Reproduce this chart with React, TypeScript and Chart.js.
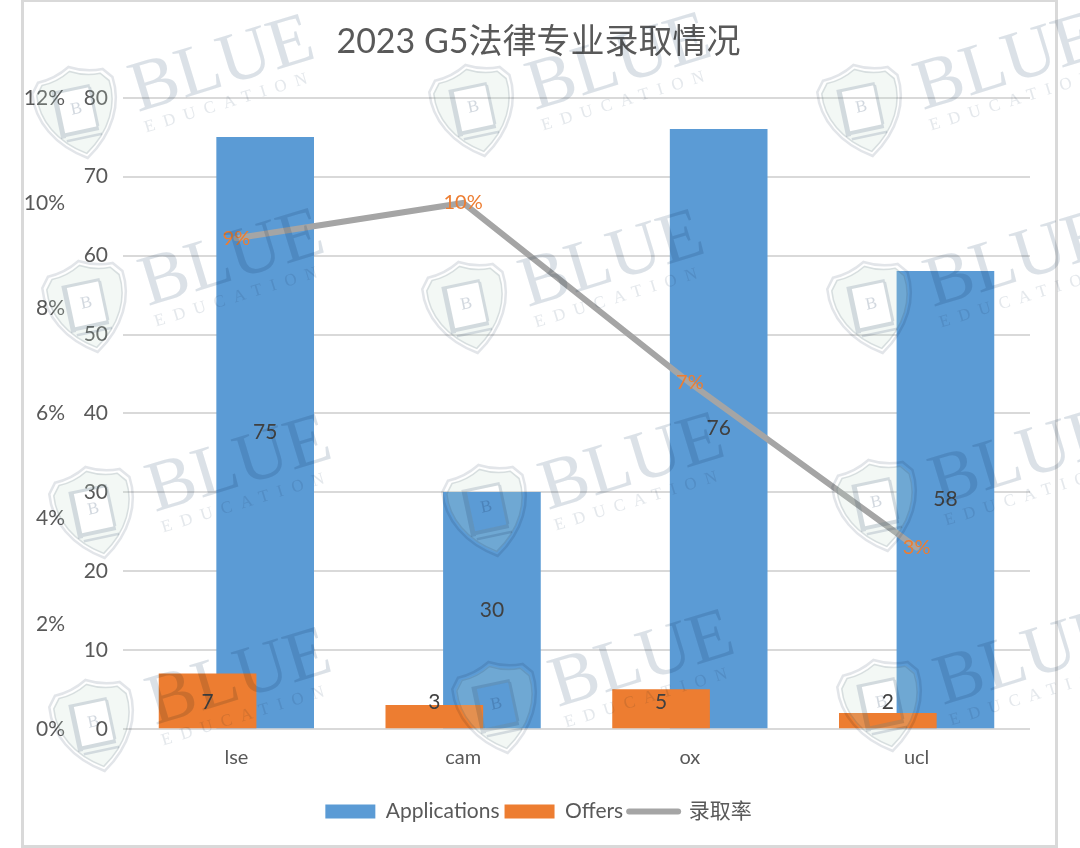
import React, { useEffect, useRef } from "react";
import { Chart, registerables } from "chart.js";

Chart.register(...registerables);

const categories = ["lse", "cam", "ox", "ucl"];
const applications = [75, 30, 76, 58];
const offers = [7, 3, 5, 2];
const admitRate = [0.0933, 0.1, 0.0658, 0.0345];
const rateLabels = ["9%", "10%", "7%", "3%"];
const titleText = "2023 G5法律专业录取情况";
const seriesNames = ["Applications", "Offers", "录取率"];
const watermarkSpots = [
  [78, 112], [475, 110], [863, 110],
  [88, 306], [468, 307], [873, 307],
  [95, 512], [488, 510], [878, 505],
  [95, 725], [498, 707], [883, 705],
];

const LATIN = 'Lato, "Noto Sans CJK SC", sans-serif';
const INK = "#595959";
const BAR_SHIFT = 0.127;
const OFFER_LABEL_LEVEL = 3.4;

function shieldPath(path: Path2D, s: number) {
  path.moveTo(0 * s, -46 * s);
  path.quadraticCurveTo(-16 * s, -37 * s, -33 * s, -37 * s);
  path.lineTo(-41 * s, -27 * s);
  path.bezierCurveTo(-44 * s, 0, -30 * s, 28 * s, 0, 47 * s);
  path.bezierCurveTo(30 * s, 28 * s, 44 * s, 0, 41 * s, -27 * s);
  path.lineTo(33 * s, -37 * s);
  path.quadraticCurveTo(16 * s, -37 * s, 0, -46 * s);
  path.closePath();
}

const decorPlugin = {
  id: "decor",
  afterLayout(chart: any) {
    // widen the clip box of the outer axis so its labels stay whole
    chart.scales.yPct.left -= 30;
  },
  beforeDraw(chart: any) {
    const { ctx } = chart;
    ctx.save();
    ctx.fillStyle = "#ffffff";
    ctx.fillRect(0, 0, 1080, 848);
    ctx.strokeStyle = "#d9d9d9";
    ctx.lineWidth = 3;
    ctx.strokeRect(22.5, 0.5, 1034, 846);
    ctx.restore();
  },
  afterDatasetsDraw(chart: any) {
    const { ctx } = chart;
    const yScale = chart.scales.y;
    ctx.save();
    ctx.textAlign = "center";
    ctx.textBaseline = "middle";
    ctx.font = `21px ${LATIN}`;
    ctx.fillStyle = "#404040";
    chart.getDatasetMeta(0).data.forEach((el: any, i: number) => {
      ctx.fillText(String(applications[i]), el.x, (el.y + el.base) / 2);
    });
    chart.getDatasetMeta(1).data.forEach((el: any, i: number) => {
      ctx.fillText(String(offers[i]), el.x, yScale.getPixelForValue(OFFER_LABEL_LEVEL));
    });
    ctx.font = `20px ${LATIN}`;
    ctx.fillStyle = "#ed7d31";
    chart.getDatasetMeta(2).data.forEach((el: any, i: number) => {
      ctx.fillText(rateLabels[i], el.x, el.y);
    });
    ctx.restore();
  },
  afterDraw(chart: any) {
    const { ctx } = chart;
    const boxes = chart.legend.legendHitBoxes;
    if (boxes && boxes[2]) {
      const b = boxes[2];
      ctx.save();
      ctx.strokeStyle = "#a5a5a5";
      ctx.lineWidth = 6;
      ctx.lineCap = "round";
      ctx.beginPath();
      ctx.moveTo(b.left + 1, b.top + b.height / 2);
      ctx.lineTo(b.left + 50, b.top + b.height / 2);
      ctx.stroke();
      ctx.restore();
    }
    watermarkSpots.forEach(([x, y]) => {
      ctx.save();
      ctx.translate(x, y);
      ctx.rotate((-12 * Math.PI) / 180);
      const body = new Path2D();
      shieldPath(body, 0.92);
      body.rect(-17, -22, 32, 40);
      ctx.fillStyle = "rgba(195,220,205,0.2)";
      ctx.fill(body, "evenodd");
      ctx.globalCompositeOperation = "multiply";
      const outer = new Path2D();
      shieldPath(outer, 1);
      ctx.strokeStyle = "#e2e5e9";
      ctx.lineWidth = 2.5;
      ctx.stroke(outer);
      const inner = new Path2D();
      shieldPath(inner, 0.9);
      ctx.lineWidth = 1.5;
      ctx.stroke(inner);
      // book: thin top and right, heavy spine and foot
      ctx.fillStyle = "#dde1e7";
      ctx.fillRect(-22, -25, 5, 48);
      ctx.fillRect(-17, 18, 34, 4);
      ctx.fillRect(-17, 25, 36, 2.5);
      ctx.fillRect(-17, -25, 34, 3);
      ctx.fillRect(15, -22, 3, 40);
      ctx.fillStyle = "#d2d8df";
      ctx.font = "17px 'Liberation Serif', serif";
      ctx.textAlign = "center";
      ctx.textBaseline = "middle";
      ctx.fillText("B", -1, -3);
      ctx.restore();

      ctx.save();
      ctx.translate(x + 60, y);
      ctx.rotate((-17 * Math.PI) / 180);
      ctx.globalCompositeOperation = "multiply";
      ctx.fillStyle = "#dbe1e7";
      ctx.textAlign = "left";
      ctx.textBaseline = "alphabetic";
      ctx.font = "72px 'Liberation Serif', serif";
      ctx.fillText("BLUE", 0, 0);
      ctx.font = "17px 'Liberation Serif', serif";
      (ctx as any).letterSpacing = "9px";
      ctx.fillStyle = "#e4e8ec";
      ctx.fillText("EDUCATION", 2, 22);
      ctx.restore();
    });
  },
};

export default function App() {
  const ref = useRef<HTMLCanvasElement>(null);
  useEffect(() => {
    document.body.style.margin = "0";
    const xy = (vals: number[], shift: number) =>
      vals.map((y, i) => ({ x: i + shift, y }));
    const chart = new Chart(ref.current as HTMLCanvasElement, {
      type: "bar",
      data: {
        labels: categories,
        datasets: [
          {
            label: seriesNames[0],
            data: xy(applications, BAR_SHIFT) as any,
            backgroundColor: "#5b9bd5",
            xAxisID: "xBar",
            yAxisID: "y",
            grouped: false,
            barThickness: 97,
            order: 3,
          },
          {
            label: seriesNames[1],
            data: xy(offers, -BAR_SHIFT) as any,
            backgroundColor: "#ed7d31",
            xAxisID: "xBar",
            yAxisID: "y",
            grouped: false,
            barThickness: 97,
            order: 2,
          },
          {
            type: "line",
            label: seriesNames[2],
            data: admitRate as any,
            borderColor: "#a5a5a5",
            backgroundColor: "#a5a5a5",
            borderWidth: 6,
            borderCapStyle: "round",
            pointRadius: 0,
            tension: 0,
            xAxisID: "x",
            yAxisID: "yPct",
            order: 1,
          },
        ] as any,
      },
      options: {
        responsive: false,
        animation: false,
        devicePixelRatio: 1,
        layout: { padding: { left: 47, right: 50, top: 8, bottom: 16 } },
        plugins: {
          tooltip: { enabled: false },
          title: {
            display: true,
            text: titleText,
            color: INK,
            font: { family: LATIN, size: 34, weight: "normal" },
            padding: { top: 14, bottom: 35 },
          },
          legend: {
            position: "bottom",
            labels: {
              boxWidth: 50,
              boxHeight: 14,
              padding: 5,
              color: INK,
              font: { family: LATIN, size: 21 },
              generateLabels: () =>
                seriesNames.map((text, i) => ({
                  text,
                  datasetIndex: i,
                  fontColor: INK,
                  lineWidth: 0,
                  strokeStyle: "transparent",
                  fillStyle: ["#5b9bd5", "#ed7d31", "transparent"][i],
                })),
            },
          },
        },
        scales: {
          x: {
            type: "category",
            offset: true,
            grid: { display: false, drawTicks: false },
            border: { display: false },
            ticks: {
              color: INK,
              padding: 17,
              font: { family: LATIN, size: 20 },
              maxRotation: 0,
            },
            afterFit: (s: any) => {
              s.height = 67;
            },
          },
          xBar: {
            type: "linear",
            display: false,
            offset: false,
            min: -0.5,
            max: 3.5,
          },
          y: {
            position: "left",
            weight: 1,
            min: 0,
            max: 80,
            grid: { color: "#d9d9d9", lineWidth: 2, drawTicks: false },
            border: { display: false },
            ticks: {
              stepSize: 10,
              color: INK,
              padding: 15,
              font: { family: LATIN, size: 21 },
            },
            afterFit: (s: any) => {
              s.width = 44;
            },
          },
          yPct: {
            position: "left",
            weight: 2,
            min: 0,
            max: 0.12,
            grid: { display: false, drawTicks: false },
            border: { display: false },
            ticks: {
              stepSize: 0.02,
              color: INK,
              padding: 14,
              font: { family: LATIN, size: 21 },
              callback: (v: any) => `${Math.round(Number(v) * 100)}%`,
            },
            afterFit: (s: any) => {
              s.width = 32;
            },
          },
        },
      },
      plugins: [decorPlugin],
    } as any);
    return () => chart.destroy();
  }, []);
  return (
    <canvas
      ref={ref}
      width={1080}
      height={848}
      style={{ display: "block", position: "absolute", left: 0, top: 0 }}
    />
  );
}
